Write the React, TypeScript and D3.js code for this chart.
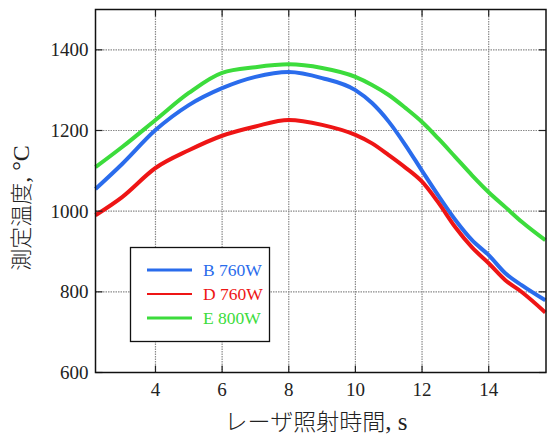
import React, {useRef, useEffect} from 'react'
import * as d3 from 'd3'

const times = [2.2, 3, 4, 5, 6, 7, 8, 9, 10, 10.5, 11, 11.5, 12, 12.5, 13, 13.5, 14, 14.5, 15, 15.7]
const seriesB = [1055, 1117, 1201, 1263, 1305, 1333, 1345, 1330, 1300, 1268, 1222, 1164, 1100, 1037, 978, 928, 891, 846, 816, 779]
const seriesD = [990, 1035, 1107, 1151, 1187, 1210, 1226, 1214, 1189, 1168, 1139, 1108, 1073, 1020, 960, 910, 871, 829, 799, 749]
const seriesE = [1109, 1159, 1226, 1293, 1343, 1357, 1364, 1355, 1333, 1313, 1288, 1256, 1221, 1179, 1134, 1089, 1047, 1010, 973, 928]
const legendLabels = ['B 760W', 'D 760W', 'E 800W']
const xTicks = [4, 6, 8, 10, 12, 14]
const yTicks = [600, 800, 1000, 1200, 1400]

const colors = ['#2a6cec', '#ee1515', '#3cdc3c']
const serif = '"Liberation Serif", "Times New Roman", serif'

export default function App() {
  const svgRef = useRef<SVGSVGElement>(null)
  const W = 547
  const H = 438
  const margin = {top: 9.5, right: 1, bottom: 65.5, left: 95.5}

  useEffect(() => {
    const svg = d3.select(svgRef.current)
    svg.selectAll('*').remove()

    const xScale = d3.scaleLinear().domain([2.2, 15.72]).range([margin.left, W - margin.right])
    const yScale = d3.scaleLinear().domain([600, 1500]).range([H - margin.bottom, margin.top])
    const x0 = xScale.range()[0], x1 = xScale.range()[1]
    const y0 = yScale.range()[0], y1 = yScale.range()[1]

    // grid
    const grid = svg.append('g')
    grid.selectAll('.vg').data(xTicks).join('line')
      .attr('x1', d => xScale(d)).attr('x2', d => xScale(d))
      .attr('y1', y0).attr('y2', y1)
      .attr('stroke', '#8a8a8a').attr('stroke-width', 1.2).attr('stroke-dasharray', '1.5,1')
    grid.selectAll('.hg').data(yTicks.filter(v => v > 600)).join('line')
      .attr('y1', d => yScale(d)).attr('y2', d => yScale(d))
      .attr('x1', x0).attr('x2', x1)
      .attr('stroke', '#8a8a8a').attr('stroke-width', 1.2).attr('stroke-dasharray', '1.5,1')

    // curves
    const allSeries = [seriesB, seriesD, seriesE]
    const line = d3.line<number>()
      .x((d, i) => xScale(times[i]))
      .y(d => yScale(d))
      .curve(d3.curveMonotoneX)
    const drawOrder = [2, 0, 1]
    drawOrder.forEach(k => {
      svg.append('path')
        .attr('d', line(allSeries[k]))
        .attr('fill', 'none')
        .attr('stroke', colors[k])
        .attr('stroke-width', 4)
        .attr('stroke-linejoin', 'round')
    })

    // ticks inward
    const ticks = svg.append('g').attr('stroke', '#222').attr('stroke-width', 1.2)
    xTicks.forEach(t => {
      ticks.append('line').attr('x1', xScale(t)).attr('x2', xScale(t)).attr('y1', y0).attr('y2', y0 - 7)
      ticks.append('line').attr('x1', xScale(t)).attr('x2', xScale(t)).attr('y1', y1).attr('y2', y1 + 7)
    })
    yTicks.forEach(t => {
      ticks.append('line').attr('y1', yScale(t)).attr('y2', yScale(t)).attr('x1', x0).attr('x2', x0 + 7)
      ticks.append('line').attr('y1', yScale(t)).attr('y2', yScale(t)).attr('x1', x1).attr('x2', x1 - 7)
    })

    // frame
    svg.append('rect')
      .attr('x', x0).attr('y', y1).attr('width', x1 - x0).attr('height', y0 - y1)
      .attr('fill', 'none').attr('stroke', '#111').attr('stroke-width', 1.5)

    // tick labels
    svg.append('g').selectAll('text').data(xTicks).join('text')
      .attr('x', d => xScale(d)).attr('y', y0 + 23)
      .attr('text-anchor', 'middle')
      .attr('font-family', serif).attr('font-size', 19).attr('fill', '#222')
      .text(d => d)
    svg.append('g').selectAll('text').data(yTicks).join('text')
      .attr('x', x0 - 7).attr('y', d => yScale(d) + 6.5)
      .attr('text-anchor', 'end')
      .attr('font-family', serif).attr('font-size', 19).attr('fill', '#222')
      .text(d => d)

    // axis titles
    const xt = svg.append('text')
      .attr('x', 316).attr('y', 430)
      .attr('text-anchor', 'middle')
      .attr('font-family', '"Noto Sans CJK JP", sans-serif')
      .attr('font-weight', 300)
      .attr('font-size', 23).attr('fill', '#222')
    xt.append('tspan').text('レーザ照射時間')
    xt.append('tspan').attr('font-family', serif).attr('font-size', 25).text(', s')

    const yt = svg.append('text')
      .attr('transform', 'translate(29,208) rotate(-90)')
      .attr('text-anchor', 'middle')
      .attr('font-family', '"Noto Sans CJK JP", sans-serif')
      .attr('font-weight', 300)
      .attr('font-size', 22).attr('fill', '#222')
    yt.append('tspan').text('測定温度')
    yt.append('tspan').attr('font-family', serif).attr('font-size', 24).text(', °C')

    // legend
    const lg = svg.append('g')
    lg.append('rect')
      .attr('x', 130.5).attr('y', 247.5).attr('width', 139).attr('height', 94)
      .attr('fill', '#fff').attr('stroke', '#111').attr('stroke-width', 1.3)
    const rows = lg.selectAll('.row').data(legendLabels).join('g')
      .attr('transform', (d, i) => `translate(0, ${270 + i * 24})`)
    rows.append('line')
      .attr('x1', 147).attr('x2', 192).attr('y1', 0).attr('y2', 0)
      .attr('stroke', (d, i) => colors[i])
      .attr('stroke-width', (d, i) => (i === 1 ? 2.2 : 3))
    rows.append('text')
      .attr('x', 203).attr('y', 6)
      .attr('font-family', serif).attr('font-size', 17.5)
      .attr('fill', (d, i) => colors[i])
      .text(d => d)
  }, [])

  return (
    <svg
      ref={svgRef}
      width={W}
      height={H}
      style={{position: 'absolute', left: 0, top: 0, background: '#fff'}}
    />
  )
}
